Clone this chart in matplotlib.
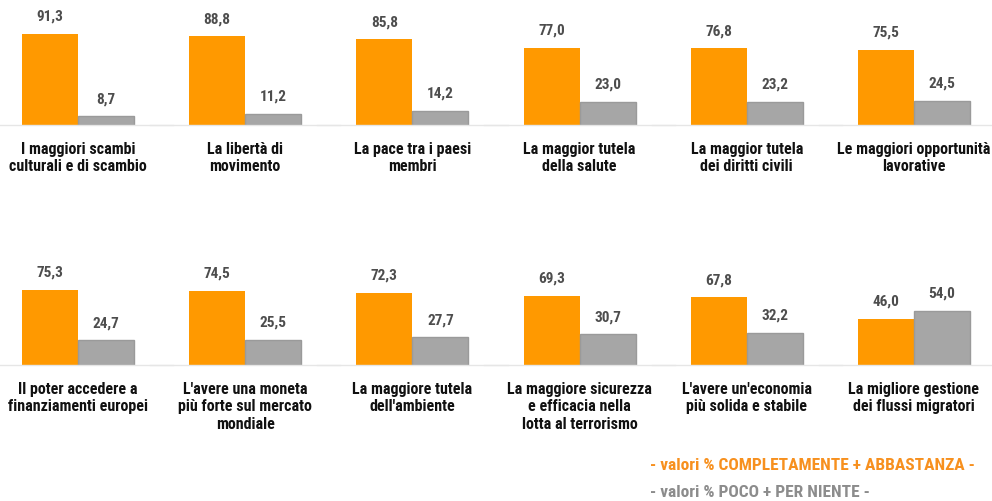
import matplotlib
matplotlib.use("Agg")
import matplotlib.pyplot as plt
from matplotlib import font_manager

# data
labels = [
    "I maggiori scambi\nculturali e di scambio",
    "La libertà di\nmovimento",
    "La pace tra i paesi\nmembri",
    "La maggior tutela\ndella salute",
    "La maggior tutela\ndei diritti civili",
    "Le maggiori opportunità\nlavorative",
    "Il poter accedere a\nfinanziamenti europei",
    "L'avere una moneta\npiù forte sul mercato\nmondiale",
    "La maggiore tutela\ndell'ambiente",
    "La maggiore sicurezza\ne efficacia nella\nlotta al terrorismo",
    "L'avere un'economia\npiù solida e stabile",
    "La migliore gestione\ndei flussi migratori",
]
si = [91.3, 88.8, 85.8, 77.0, 76.8, 75.5, 75.3, 74.5, 72.3, 69.3, 67.8, 46.0]
no = [8.7, 11.2, 14.2, 23.0, 23.2, 24.5, 24.7, 25.5, 27.7, 30.7, 32.2, 54.0]
legend_si = "- valori % COMPLETAMENTE + ABBASTANZA -"
legend_no = "- valori % POCO + PER NIENTE -"

ORANGE = "#FF9900"
GREY = "#A6A6A6"

# pick a narrow bold face if one is installed
fonts = font_manager.fontManager.ttflist
names = {f.name for f in fonts}
stretch = "normal"
size_scale = 1.0
if "Roboto Condensed" in names:
    font = "Roboto Condensed"
elif "Liberation Sans Narrow" in names:
    font = "Liberation Sans Narrow"
elif any(f.name == "DejaVu Sans" and f.stretch == "condensed" for f in fonts):
    font, stretch, size_scale = "DejaVu Sans", "condensed", 0.9
else:
    font, size_scale = "Roboto", 0.88
plt.rcParams["font.family"] = [font, "DejaVu Sans"]
plt.rcParams["font.stretch"] = stretch

W, H = 992, 502
fig = plt.figure(figsize=(W / 100, H / 100), dpi=100)

baselines = [126, 366]  # pixel y from top
for i, lab in enumerate(labels):
    row, col = divmod(i, 6)
    cx = 78 + col * 167.2
    base = H - baselines[row]
    ax = fig.add_axes([(cx - 84) / W, base / H, 168 / W, 112 / H])
    ax.set_xlim(-1, 2)
    ax.set_ylim(0, 112)
    ax.axis("off")
    ax.bar([0], [si[i]], width=1, color=ORANGE)
    ax.bar([1], [no[i]], width=1, color=GREY, edgecolor="#9A9A9A", linewidth=1)
    ax.plot([-1.2, 2.2], [0, 0], color="#E6E6E6", lw=1, clip_on=False)
    for x, v in zip([0, 1], [si[i], no[i]]):
        ax.annotate(f"{v:.1f}".replace(".", ","), (x, v), xytext=(0, 8),
                    textcoords="offset points", ha="center", va="bottom",
                    fontsize=11 * size_scale, fontweight="bold", color="#4D4D4D")
    ax.text(0.5, -16, lab, ha="center", va="top", fontsize=11.5 * size_scale,
            fontweight="bold", color="#111111", linespacing=1.2,
            transform=ax.transData, clip_on=False)

fig.text(650 / W, 1 - 466 / H, legend_si, ha="left", va="center",
         fontsize=12.5 * size_scale, fontweight="bold", color="#F7901E")
fig.text(650 / W, 1 - 493 / H, legend_no, ha="left", va="center",
         fontsize=12.5 * size_scale, fontweight="bold", color="#8C8C8C")

fig.savefig("out.png", dpi=100, facecolor="white")
